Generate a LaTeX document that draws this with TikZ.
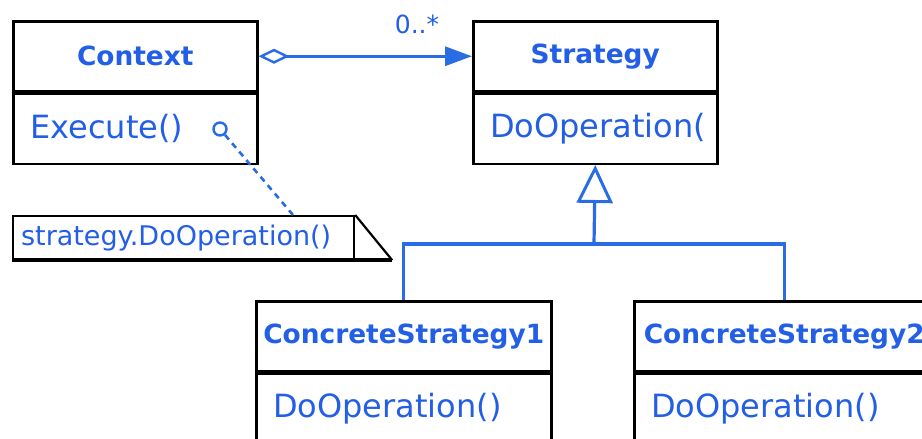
\documentclass[tikz,border=0pt]{standalone}
\usepackage{fontspec}
\setmainfont{DejaVu Sans}
\usetikzlibrary{arrows.meta,calc}
\definecolor{umltext}{RGB}{34,94,230}
\definecolor{umlline}{RGB}{42,108,228}

\tikzset{
  classhead/.style={draw=black, line width=2.5pt, fill=white,
    minimum width=#1, minimum height=70pt, inner sep=0pt,
    text=umltext, font=\bfseries\fontsize{26.4}{30}\selectfont,
    anchor=north west},
  classbody/.style={draw=black, line width=2.5pt, fill=white,
    text width=#1, inner xsep=17pt, inner ysep=0pt, minimum height=70pt,
    text=umltext, font=\fontsize{32}{38}\selectfont,
    align=left, anchor=north west},
  notebox/.style={draw=black, line width=2.2pt, fill=white,
    minimum height=43pt, inner sep=0pt,
    text width=325pt, inner xsep=8pt, align=left,
    text=umltext, font=\fontsize{27}{32}\selectfont, anchor=north west},
  umlconn/.style={draw=umlline, line width=3.2pt},
  pin/.style={circle, draw=umlline, line width=2.4pt, minimum size=13pt, inner sep=0pt},
  multlabel/.style={text=umltext, font=\fontsize{25}{30}\selectfont, inner sep=0pt},
}

\begin{document}
\begin{tikzpicture}[x=1pt, y=-1pt]
  \useasboundingbox (0,0) rectangle (922,439);
  \fill[white] (0,0) rectangle (922,439);
  \clip (0,0) rectangle (922,439);

  % Context class
  \node[classhead=244pt] (ctx) at (12,20) {Context};
  \node[classbody=210pt] (ctxops) at (ctx.south west) {Execute()};

  % Strategy interface
  \node[classhead=244pt] (strat) at (472,20) {Strategy};
  \node[classbody=210pt] (stratops) at (strat.south west) {DoOperation(};

  % Concrete strategies
  \node[classhead=295pt] (cs1) at (255,300) {ConcreteStrategy1};
  \node[classbody=261pt] (cs1ops) at (cs1.south west) {DoOperation()};
  \node[classhead=300pt] (cs2) at (633,300) {ConcreteStrategy2};
  \node[classbody=266pt] (cs2ops) at (cs2.south west) {DoOperation()};

  % Aggregation: Context holds a Strategy
  \draw[umlconn, {Diamond[open, length=31pt, width=15pt, line width=2.4pt]}-{Triangle[length=27pt, width=19pt]}]
    (ctx.east) -- (strat.west);
  \node[multlabel] (mult) at (417,24) {0..*};

  % Generalisation from the concrete strategies
  \coordinate (join) at (594,244);
  \draw[umlconn] (cs1.north) |- (join);
  \draw[umlconn] (cs2.north) |- (join);
  \draw[umlconn, -{Triangle[open, length=38pt, width=36pt, line width=3pt]}] (join) -- (stratops.south);

  % Note attached to Execute()
  \node[notebox] (note) at (12,215) {strategy.DoOperation()};
  \coordinate (fold) at ($(note.south east)+(37,0)$);
  \draw[line width=2.2pt] (note.north east) -- (fold);
  \draw[line width=3.8pt] (note.south west) -- (fold);
  \node[pin] (ctxpin) at (220,129) {};
  \coordinate (notepin) at (293,215);
  \draw[umlconn, line width=2.6pt, dash pattern=on 6pt off 5pt] (ctxpin) -- (notepin);
\end{tikzpicture}
\end{document}
